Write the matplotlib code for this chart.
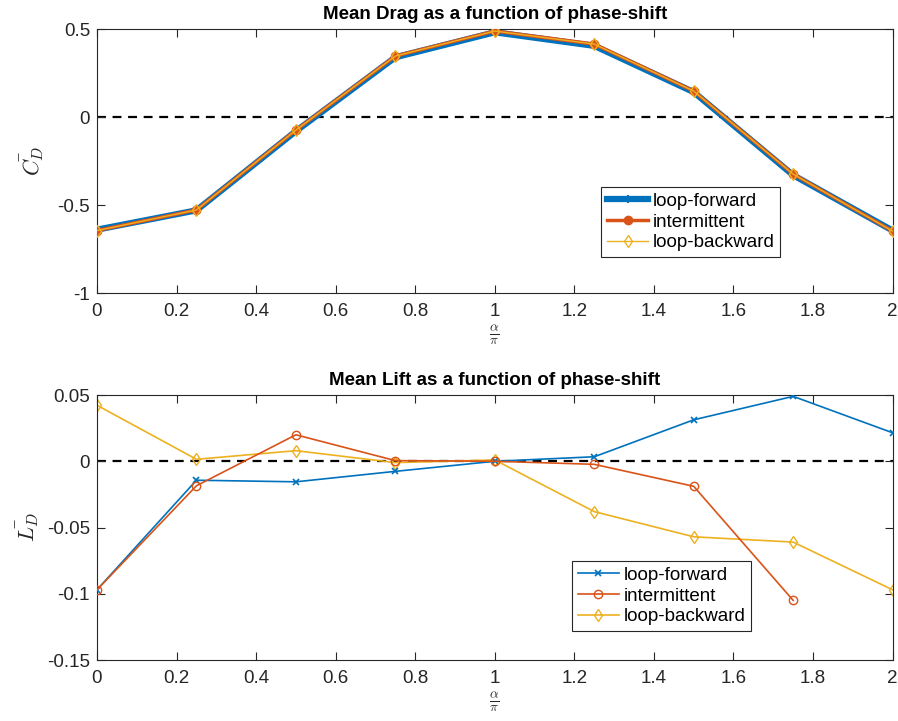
import numpy as np
import matplotlib
matplotlib.use("Agg")
import matplotlib.pyplot as plt

plt.rcParams['font.family'] = ['Liberation Sans', 'DejaVu Sans']
plt.rcParams['mathtext.fontset'] = 'cm'

phase = [0, 0.25, 0.5, 0.75, 1.0, 1.25, 1.5, 1.75, 2.0]

# Mean drag coefficient
drag_forward = [-0.640, -0.530, -0.080, 0.340, 0.482, 0.405, 0.142, -0.330, -0.645]
drag_intermittent = [-0.645, -0.528, -0.074, 0.347, 0.489, 0.415, 0.148, -0.324, -0.648]
drag_backward = [-0.645, -0.528, -0.074, 0.347, 0.489, 0.415, 0.148, -0.324, -0.648]

# Mean lift coefficient
lift_forward = [-0.097, -0.0143, -0.0155, -0.0076, 0.0, 0.0034, 0.0313, 0.049, 0.0215]
lift_intermittent = [-0.097, -0.0185, 0.020, 0.0005, 0.0, -0.0023, -0.0189, -0.105, np.nan]
lift_backward = [0.0423, 0.0015, 0.008, -0.001, 0.001, -0.038, -0.057, -0.061, -0.097]

labels = ['loop-forward', 'intermittent', 'loop-backward']
c_blue, c_orange, c_yellow = '#0072BD', '#D95319', '#EDB120'
axis_col = '#262626'

fig = plt.figure(figsize=(8.98, 7.21), dpi=100)
ax1 = fig.add_axes([0.108, 0.5936, 0.886, 0.366])
ax2 = fig.add_axes([0.108, 0.0846, 0.886, 0.3675])


def style(ax):
    for s in ax.spines.values():
        s.set_color(axis_col)
        s.set_linewidth(0.8)
    ax.tick_params(direction='in', top=True, right=True, length=6,
                   width=0.8, color=axis_col, labelsize=13.5,
                   labelcolor=axis_col)
    ax.tick_params(axis='x', pad=7)
    ax.tick_params(axis='y', pad=5)
    ax.set_xlim(0, 2)
    ax.set_xticks(np.arange(0, 2.01, 0.2))
    ax.set_xticklabels([f'{v:g}' for v in np.arange(0, 2.01, 0.2)])
    ax.set_xlabel(r'$\frac{\alpha}{\pi}$', fontsize=14, color=axis_col, labelpad=2)


def add_legend(ax, anchor):
    leg = ax.legend(loc='upper left', bbox_to_anchor=anchor, fontsize=13.5,
                    frameon=True, fancybox=False, edgecolor=axis_col, framealpha=1,
                    handlelength=2.2, handletextpad=0.25, borderpad=0.3,
                    labelspacing=0.2, borderaxespad=0)
    leg.get_frame().set_linewidth(0.8)
    return leg


# Drag panel
ax1.axhline(0, color='black', ls='--', lw=1.6, dashes=(4, 3), zorder=1)
ax1.plot(phase, drag_forward, color=c_blue, lw=4.5, marker='+', ms=6, mew=1.5, label=labels[0], zorder=2)
ax1.plot(phase, drag_intermittent, color=c_orange, lw=2.5, marker='o', ms=6, label=labels[1], zorder=3)
ax1.plot(phase, drag_backward, color=c_yellow, lw=1.0, marker='d', ms=6, mfc='none', label=labels[2], zorder=4)
style(ax1)
ax1.set_ylim(-1, 0.5)
ax1.set_yticks([-1, -0.5, 0, 0.5])
ax1.set_yticklabels(['-1', '-0.5', '0', '0.5'])
ax1.set_ylabel(r'$\bar{C_D}$', fontsize=16, color=axis_col, labelpad=8)
ax1.set_title('Mean Drag as a function of phase-shift', fontsize=13.5, fontweight='bold', pad=7)
add_legend(ax1, (0.634, 0.402))

# Lift panel
ax2.axhline(0, color='black', ls='--', lw=1.6, dashes=(4, 3), zorder=1)
ax2.plot(phase, lift_forward, color=c_blue, lw=1.2, marker='x', ms=5, mew=1.2, label=labels[0], zorder=3)
ax2.plot(phase, lift_intermittent, color=c_orange, lw=1.2, marker='o', ms=6, mfc='none', label=labels[1], zorder=3)
ax2.plot(phase, lift_backward, color=c_yellow, lw=1.2, marker='d', ms=6, mfc='none', label=labels[2], zorder=2)
style(ax2)
ax2.set_ylim(-0.15, 0.05)
ax2.set_yticks([-0.15, -0.1, -0.05, 0, 0.05])
ax2.set_yticklabels(['-0.15', '-0.1', '-0.05', '0', '0.05'])
ax2.set_ylabel(r'$\bar{L_D}$', fontsize=16, color=axis_col, labelpad=4)
ax2.set_title('Mean Lift as a function of phase-shift', fontsize=13.5, fontweight='bold', pad=7)
add_legend(ax2, (0.597, 0.374))

fig.savefig('out.png', dpi=100)
